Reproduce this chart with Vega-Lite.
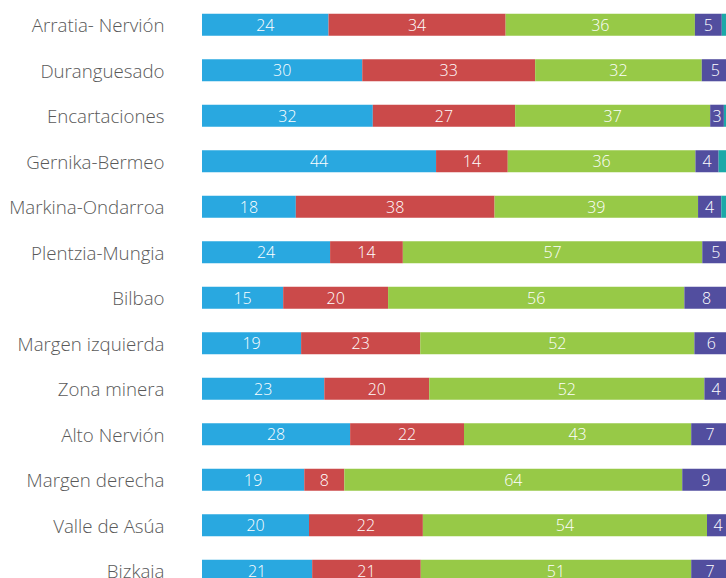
{
  "$schema": "https://vega.github.io/schema/vega-lite/v6.json",
  "autosize": {"type": "none"},
  "padding": {"left": 202, "top": 2, "right": 0, "bottom": 0},
  "width": 524,
  "height": 576,
  "background": "white",
  "config": {"view": {"stroke": null}, "font": "Open Sans"},
  "data": {"values": [
    {"zona": "Arratia- Nervión", "s": "S1", "v": 24.0},
    {"zona": "Arratia- Nervión", "s": "S2", "v": 33.6},
    {"zona": "Arratia- Nervión", "s": "S3", "v": 35.9},
    {"zona": "Arratia- Nervión", "s": "S4", "v": 5.1},
    {"zona": "Arratia- Nervión", "s": "S5", "v": 1.4},
    {"zona": "Duranguesado", "s": "S1", "v": 30.4},
    {"zona": "Duranguesado", "s": "S2", "v": 32.8},
    {"zona": "Duranguesado", "s": "S3", "v": 31.6},
    {"zona": "Duranguesado", "s": "S4", "v": 5.1},
    {"zona": "Encartaciones", "s": "S1", "v": 32.4},
    {"zona": "Encartaciones", "s": "S2", "v": 27.0},
    {"zona": "Encartaciones", "s": "S3", "v": 37.0},
    {"zona": "Encartaciones", "s": "S4", "v": 2.6},
    {"zona": "Encartaciones", "s": "S5", "v": 1.0},
    {"zona": "Gernika-Bermeo", "s": "S1", "v": 44.4},
    {"zona": "Gernika-Bermeo", "s": "S2", "v": 13.6},
    {"zona": "Gernika-Bermeo", "s": "S3", "v": 35.6},
    {"zona": "Gernika-Bermeo", "s": "S4", "v": 4.4},
    {"zona": "Gernika-Bermeo", "s": "S5", "v": 2.0},
    {"zona": "Markina-Ondarroa", "s": "S1", "v": 17.8},
    {"zona": "Markina-Ondarroa", "s": "S2", "v": 37.7},
    {"zona": "Markina-Ondarroa", "s": "S3", "v": 38.6},
    {"zona": "Markina-Ondarroa", "s": "S4", "v": 4.4},
    {"zona": "Markina-Ondarroa", "s": "S5", "v": 1.5},
    {"zona": "Plentzia-Mungia", "s": "S1", "v": 24.3},
    {"zona": "Plentzia-Mungia", "s": "S2", "v": 13.8},
    {"zona": "Plentzia-Mungia", "s": "S3", "v": 56.8},
    {"zona": "Plentzia-Mungia", "s": "S4", "v": 5.1},
    {"zona": "Bilbao", "s": "S1", "v": 15.4},
    {"zona": "Bilbao", "s": "S2", "v": 19.9},
    {"zona": "Bilbao", "s": "S3", "v": 56.2},
    {"zona": "Bilbao", "s": "S4", "v": 8.4},
    {"zona": "Margen izquierda", "s": "S1", "v": 18.8},
    {"zona": "Margen izquierda", "s": "S2", "v": 22.6},
    {"zona": "Margen izquierda", "s": "S3", "v": 52.0},
    {"zona": "Margen izquierda", "s": "S4", "v": 6.4},
    {"zona": "Zona minera", "s": "S1", "v": 23.2},
    {"zona": "Zona minera", "s": "S2", "v": 19.9},
    {"zona": "Zona minera", "s": "S3", "v": 52.2},
    {"zona": "Zona minera", "s": "S4", "v": 4.4},
    {"zona": "Alto Nervión", "s": "S1", "v": 28.1},
    {"zona": "Alto Nervión", "s": "S2", "v": 21.6},
    {"zona": "Alto Nervión", "s": "S3", "v": 43.1},
    {"zona": "Alto Nervión", "s": "S4", "v": 7.2},
    {"zona": "Margen derecha", "s": "S1", "v": 19.4},
    {"zona": "Margen derecha", "s": "S2", "v": 7.6},
    {"zona": "Margen derecha", "s": "S3", "v": 64.1},
    {"zona": "Margen derecha", "s": "S4", "v": 8.9},
    {"zona": "Valle de Asúa", "s": "S1", "v": 20.3},
    {"zona": "Valle de Asúa", "s": "S2", "v": 21.6},
    {"zona": "Valle de Asúa", "s": "S3", "v": 53.9},
    {"zona": "Valle de Asúa", "s": "S4", "v": 4.2},
    {"zona": "Bizkaia", "s": "S1", "v": 20.9},
    {"zona": "Bizkaia", "s": "S2", "v": 20.6},
    {"zona": "Bizkaia", "s": "S3", "v": 51.3},
    {"zona": "Bizkaia", "s": "S4", "v": 7.2}
  ]},
  "encoding": {
    "y": {
      "field": "zona", "type": "nominal",
      "sort": ["Arratia- Nervión", "Duranguesado", "Encartaciones", "Gernika-Bermeo", "Markina-Ondarroa", "Plentzia-Mungia", "Bilbao", "Margen izquierda", "Zona minera", "Alto Nervión", "Margen derecha", "Valle de Asúa", "Bizkaia"],
      "scale": {"range": [0, 591.5], "paddingInner": 0.515, "paddingOuter": 0.2575},
      "axis": {"title": null, "domain": false, "ticks": false, "labelPadding": 38, "labelFontSize": 18.7, "labelFontWeight": 300, "labelColor": "#595959", "labelFont": "Open Sans", "labelBaseline": "middle", "labelOffset": 1.5}
    }
  },
  "layer": [
    {
      "mark": {"type": "bar", "clip": true},
      "encoding": {
        "x": {"field": "v", "type": "quantitative", "stack": "zero", "scale": {"domain": [0, 99.4], "nice": false, "zero": true}, "axis": null},
        "color": {"field": "s", "type": "nominal", "legend": null, "scale": {"domain": ["S1", "S2", "S3", "S4", "S5"], "range": ["#29A8E0", "#CB4A4A", "#97C947", "#524E9F", "#1BA9A8"]}},
        "order": {"field": "s"}
      }
    },
    {
      "transform": [{"filter": "datum.s != 'S5'"}],
      "mark": {"type": "text", "color": "white", "fontSize": 16, "fontWeight": 300, "font": "Open Sans", "baseline": "middle", "align": "center", "dy": 1, "clip": true},
      "encoding": {
        "x": {"field": "v", "type": "quantitative", "stack": "zero", "bandPosition": 0.5},
        "detail": {"field": "s"},
        "order": {"field": "s"},
        "text": {"field": "v", "type": "quantitative", "format": ".0f"}
      }
    }
  ]
}
